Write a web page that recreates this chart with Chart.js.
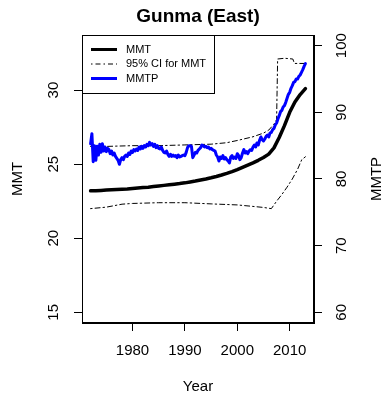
<!DOCTYPE html>
<html>
<head>
<meta charset="utf-8">
<script src="https://cdn.jsdelivr.net/npm/chart.js@4/dist/chart.umd.min.js"></script>
<style>
  html, body { margin: 0; padding: 0; background: #fff; }
  #wrap { width: 384px; height: 400px; }
</style>
</head>
<body>
<div id="wrap"><canvas id="c" width="384" height="400"></canvas></div>
<script>
// ---------- data ----------
const chartTitle = 'Gunma (East)';
const xTitle = 'Year';
const yLeftTitle = 'MMT';
const yRightTitle = 'MMTP';
const legendLabels = ['MMT', '95% CI for MMT', 'MMTP'];

const xTicks = [1980, 1990, 2000, 2010];
const yLeftTicks = [15, 20, 25, 30];
const yRightTicks = [60, 70, 80, 90, 100];

// MMT (annual, left axis)
const mmtYears = [1972,1973,1974,1975,1976,1977,1978,1979,1980,1981,1982,1983,1984,1985,1986,1987,1988,1989,1990,1991,1992,1993,1994,1995,1996,1997,1998,1999,2000,2001,2002,2003,2004,2005,2006,2007,2008,2009,2010,2011,2012,2013];
const mmt = [23.20,23.21,23.23,23.25,23.27,23.29,23.31,23.33,23.36,23.39,23.42,23.45,23.49,23.53,23.57,23.61,23.65,23.69,23.74,23.80,23.86,23.93,24.00,24.08,24.17,24.27,24.38,24.50,24.64,24.79,24.94,25.09,25.26,25.45,25.68,26.10,26.80,27.60,28.50,29.20,29.70,30.10];

// 95% CI for MMT (left axis)
const ciUpperYears = [1972,1975,1980,1985,1990,1995,1998,2000,2003,2005,2006,2007,2007.5,2007.7,2009,2010.6,2010.9,2013];
const ciUpper = [26.2,26.2,26.25,26.25,26.3,26.35,26.45,26.6,26.85,27.1,27.3,27.7,28.0,32.1,32.15,32.1,31.8,31.8];
const ciLowerYears = [1972,1975,1978,1980,1985,1990,1995,2000,2003,2005,2006.5,2007.5,2008.5,2009.5,2010.5,2011.5,2012.3,2013];
const ciLower = [22.0,22.1,22.3,22.35,22.4,22.4,22.32,22.25,22.15,22.08,22.0,22.5,22.95,23.45,24.0,24.65,25.3,25.5];

// MMTP (quarterly from 1972.0, right axis)
const mmtpStartYear = 1972;
const mmtpStep = 0.25;
const mmtp = [
  85.3,86.8,82.6,85.0,  // 1972
  82.8,84.9,83.6,85.2,  // 1973
  84.0,85.3,84.2,84.8,  // 1974
  84.1,84.6,84.4,83.8,  // 1975
  84.2,83.6,83.9,83.4,  // 1976
  83.1,82.8,82.2,82.9,  // 1977
  83.2,82.9,83.4,83.6,  // 1978
  83.4,83.9,83.7,84.2,  // 1979
  84.0,84.4,84.2,84.5,  // 1980
  84.3,84.8,84.5,84.9,  // 1981
  84.6,85.0,84.8,85.2,  // 1982
  85.0,85.5,85.1,85.3,  // 1983
  84.9,85.2,84.7,85.0,  // 1984
  84.6,84.5,84.8,84.3,  // 1985
  84.0,83.9,84.2,83.7,  // 1986
  83.4,83.7,83.4,83.6,  // 1987
  83.4,83.5,83.2,83.6,  // 1988
  83.3,83.4,83.5,83.6,  // 1989
  83.5,84.0,84.7,85.0,  // 1990
  85.0,84.9,83.2,83.6,  // 1991
  84.0,83.9,84.3,84.5,  // 1992
  84.7,85.1,85.0,84.8,  // 1993
  84.9,84.7,84.8,84.5,  // 1994
  84.6,84.4,84.3,84.2,  // 1995
  83.6,83.3,82.7,83.3,  // 1996
  83.1,83.5,83.0,83.2,  // 1997
  82.9,82.7,82.4,83.3,  // 1998
  83.5,83.1,83.3,83.1,  // 1999
  83.8,83.5,82.9,83.2,  // 2000
  83.9,84.4,83.9,84.1,  // 2001
  83.8,84.2,84.4,84.3,  // 2002
  84.8,85.1,84.8,85.4,  // 2003
  85.1,85.8,86.3,85.9,  // 2004
  85.7,86.0,86.4,86.6,  // 2005
  86.3,86.9,87.0,87.4,  // 2006
  87.6,88.1,88.4,89.0,  // 2007
  89.5,90.1,90.3,90.8,  // 2008
  91.0,91.5,92.1,92.7,  // 2009
  93.0,93.6,94.0,94.5,  // 2010
  94.6,95.0,95.0,95.4,  // 2011
  95.6,96.0,96.4,96.9,  // 2012
  97.3                  // 2013
];

// ---------- build ----------
const toXY = (xs, ys) => ys.map((v, i) => ({ x: xs[i], y: v }));
const mmtpYears = mmtp.map((_, i) => mmtpStartYear + i * mmtpStep);

const FONT = "'Liberation Sans', Arial, Helvetica, sans-serif";
const DOTDASH = [1.5, 3, 5, 3];

const frameAndLegend = {
  id: 'frameAndLegend',
  afterDraw(chart) {
    const ctx = chart.ctx;
    const a = chart.chartArea;
    ctx.save();
    // plot box
    ctx.strokeStyle = '#000';
    ctx.lineWidth = 1;
    ctx.strokeRect(Math.round(a.left) + 0.5, Math.round(a.top) + 0.5,
                   Math.round(a.right - a.left) - 1, Math.round(a.bottom - a.top) - 1);
    // title
    ctx.fillStyle = '#000';
    ctx.font = 'bold 19px ' + FONT;
    ctx.textAlign = 'center';
    ctx.textBaseline = 'middle';
    ctx.fillText(chartTitle, (a.left + a.right) / 2, 17);
    // right axis title, reading bottom to top
    ctx.save();
    ctx.font = '15px ' + FONT;
    ctx.translate(377, (a.top + a.bottom) / 2);
    ctx.rotate(-Math.PI / 2);
    ctx.fillText(yRightTitle, 0, 0);
    ctx.restore();
    // legend
    const lx = Math.round(a.left) + 0.5, ly = Math.round(a.top) + 0.5;
    const lw = 132, lh = 58;
    ctx.fillStyle = '#fff';
    ctx.fillRect(lx, ly, lw, lh);
    ctx.strokeStyle = '#000';
    ctx.lineWidth = 1;
    ctx.strokeRect(lx, ly, lw, lh);
    const styles = [
      { color: '#000', width: 3, dash: [] },
      { color: '#000', width: 1, dash: DOTDASH },
      { color: '#0000ff', width: 3, dash: [] }
    ];
    const rows = [49.5, 64, 78.5];
    ctx.font = '11px ' + FONT;
    ctx.textAlign = 'left';
    ctx.textBaseline = 'middle';
    legendLabels.forEach((lab, i) => {
      const s = styles[i];
      ctx.beginPath();
      ctx.setLineDash(s.dash);
      ctx.strokeStyle = s.color;
      ctx.lineWidth = s.width;
      ctx.moveTo(a.left + 9, rows[i]);
      ctx.lineTo(a.left + 35, rows[i]);
      ctx.stroke();
      ctx.setLineDash([]);
      ctx.fillStyle = '#000';
      ctx.fillText(lab, a.left + 44, rows[i]);
    });
    ctx.restore();
  }
};

const axisCommon = {
  grid: { drawOnChartArea: false, drawTicks: true, tickLength: 8, color: '#000', lineWidth: 1 },
  border: { display: true, color: '#000', width: 1 }
};

new Chart(document.getElementById('c'), {
  type: 'line',
  data: {
    datasets: [
      { label: 'MMTP', data: toXY(mmtpYears, mmtp), yAxisID: 'y2', borderColor: '#0000ff', borderWidth: 3 },
      { label: 'MMT', data: toXY(mmtYears, mmt), yAxisID: 'y', borderColor: '#000', borderWidth: 3.5 },
      { label: 'CI upper', data: toXY(ciUpperYears, ciUpper), yAxisID: 'y', borderColor: '#000', borderWidth: 1, borderDash: DOTDASH },
      { label: 'CI lower', data: toXY(ciLowerYears, ciLower), yAxisID: 'y', borderColor: '#000', borderWidth: 1, borderDash: DOTDASH }
    ]
  },
  options: {
    responsive: false,
    animation: false,
    layout: { padding: { top: 35, left: 0, right: 0, bottom: 0 } },
    elements: { point: { radius: 0 }, line: { tension: 0, fill: false, borderJoinStyle: 'round', borderCapStyle: 'round' } },
    plugins: { legend: { display: false }, tooltip: { enabled: false }, title: { display: false } },
    scales: {
      x: {
        ...axisCommon,
        type: 'linear', position: 'bottom',
        min: 1970.36, max: 2014.64,
        afterBuildTicks: s => { s.ticks = xTicks.map(v => ({ value: v })); },
        afterFit: s => { s.height = 77; },
        ticks: { color: '#000', font: { family: FONT, size: 15 }, padding: 11, maxRotation: 0, autoSkip: false, callback: v => String(v) },
        title: { display: true, text: xTitle, color: '#000', font: { family: FONT, size: 15 }, padding: { top: 0, bottom: 4 } }
      },
      y: {
        ...axisCommon,
        type: 'linear', position: 'left',
        min: 14.28, max: 33.72,
        afterBuildTicks: s => { s.ticks = yLeftTicks.map(v => ({ value: v })); },
        afterFit: s => { s.width = 82; },
        ticks: { color: '#000', font: { family: FONT, size: 15 }, padding: 11.5, minRotation: 90, maxRotation: 90, crossAlign: 'center', autoSkip: false, callback: v => String(v) },
        title: { display: true, text: yLeftTitle, color: '#000', font: { family: FONT, size: 15 }, padding: { top: 9, bottom: 0 } }
      },
      y2: {
        ...axisCommon,
        type: 'linear', position: 'right',
        min: 58.4, max: 101.6,
        afterBuildTicks: s => { s.ticks = yRightTicks.map(v => ({ value: v })); },
        afterFit: s => { s.width = 70; },
        ticks: { color: '#000', font: { family: FONT, size: 15 }, padding: 7.5, minRotation: 90, maxRotation: 90, crossAlign: 'center', autoSkip: false, callback: v => String(v) }
      }
    }
  },
  plugins: [frameAndLegend]
});
</script>
</body>
</html>
